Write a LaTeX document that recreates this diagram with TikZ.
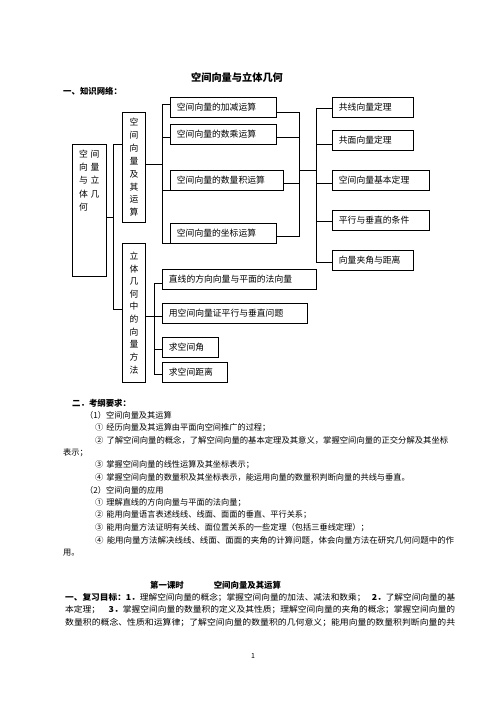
\documentclass[tikz,border=0pt]{standalone}
\usepackage{fontspec}
\usepackage{graphicx}
\setmainfont{Noto Sans CJK SC}
\newcommand{\jline}[2]{\resizebox{#1}{\height}{#2}}
\begin{document}
\begin{tikzpicture}[x=1pt,y=-1pt,
  box/.style={draw, line width=0.8pt, anchor=north west, inner ysep=0pt, inner xsep=6.5pt, minimum height=20pt, align=left, font=\fontsize{8.8}{10}\selectfont},
  vbox/.style={draw, line width=0.8pt, anchor=north west, inner sep=0pt, minimum width=23pt, align=center, font=\fontsize{8.8}{12.85}\selectfont},
  conn/.style={line width=0.8pt},
  body/.style={anchor=west, inner sep=0pt, font=\fontsize{8.2}{10}\selectfont},
  bbody/.style={body, font=\fontsize{8.4}{10}\selectfont\bfseries},
]
\useasboundingbox (0,0) rectangle (496,702);

% title
\node[font=\fontsize{10.2}{12}\selectfont\bfseries] (title) at (237,78) {空间向量与立体几何};
\node[bbody] (h1) at (63,91) {一、知识网络：};

% tree boxes
\node[draw, line width=0.8pt, anchor=north west, minimum width=34pt, minimum height=132pt, inner sep=0pt] (L) at (72,144) {};
\node[anchor=north west, inner sep=0pt, align=left, font=\fontsize{8.8}{13.3}\selectfont] (Lt) at (79,149.5) {空\hspace{2.6pt}间\\向\hspace{2.6pt}量\\与\hspace{2.6pt}立\\体\hspace{2.6pt}几\\何};

\node[vbox, minimum height=110pt] (A) at (122,112) {空\\间\\向\\量\\及\\其\\运\\算};
\node[vbox, minimum height=139pt, font=\fontsize{8.8}{12.65}\selectfont] (B) at (122,243) {立\\体\\几\\何\\中\\的\\向\\量\\方\\法};

\node[box, text width=93pt] (a1) at (170,97) {空间向量的加减运算};
\node[box, text width=93pt] (a2) at (170,124) {空间向量的数乘运算};
\node[box, text width=100pt] (a3) at (170,170) {空间向量的数量积运算};
\node[box, text width=93pt] (a4) at (170,223) {空间向量的坐标运算};

\node[box, text width=68pt] (r1) at (332,97) {共线向量定理};
\node[box, text width=68pt] (r2) at (332,130) {共面向量定理};
\node[box, text width=84pt] (r3) at (332,170) {空间向量基本定理};
\node[box, text width=84pt] (r4) at (332,210) {平行与垂直的条件};
\node[box, text width=68pt] (r5) at (332,250) {向量夹角与距离};

\node[box, text width=141pt] (b1) at (162,269) {直线的方向向量与平面的法向量};
\node[box, text width=132pt] (b2) at (162,303) {用空间向量证平行与垂直问题};
\node[box, text width=43pt] (b3) at (162,337) {求空间角};
\node[box, text width=52pt] (b4) at (162,362) {求空间距离};

% junction coordinates
\coordinate (jL) at (113,217);
\coordinate (bA) at (113,144);
\coordinate (bB) at (113,309);
\coordinate (cA) at (162,164);
\coordinate (c1) at (162,104);
\coordinate (c2) at (162,137);
\coordinate (c3) at (162,190);
\coordinate (c4) at (162,243);
\coordinate (d1) at (299,112);
\coordinate (d2) at (299,137);
\coordinate (d3) at (299,183);
\coordinate (d4) at (299,236);
\coordinate (dm) at (299,170);
\coordinate (e0) at (316,170);
\coordinate (e1) at (316,108);
\coordinate (e2) at (316,144);
\coordinate (e3) at (316,183);
\coordinate (e4) at (316,221);
\coordinate (e5) at (316,262);
\coordinate (f1) at (154,283);
\coordinate (f2) at (154,316);
\coordinate (f3) at (154,349);
\coordinate (f4) at (154,374);

% connectors
\draw[conn] (L.east |- jL) -- (jL);
\draw[conn] (A.west |- bA) -- (bA) -- (bB) -- (B.west |- bB);

\draw[conn] (A.east |- cA) -- (cA);
\draw[conn] (a1.west |- c1) -- (c1) -- (c4) -- (a4.west |- c4);
\draw[conn] (c2) -- (a2.west |- c2);
\draw[conn] (c3) -- (a3.west |- c3);

\draw[conn] (a1.east |- d1) -- (d1) -- (d4) -- (a4.east |- d4);
\draw[conn] (a2.east |- d2) -- (d2);
\draw[conn] (a3.east |- d3) -- (d3);
\draw[conn] (dm) -- (e0);

\draw[conn] (r1.west |- e1) -- (e1) -- (e5) -- (r5.west |- e5);
\draw[conn] (e2) -- (r2.west |- e2);
\draw[conn] (e3) -- (r3.west |- e3);
\draw[conn] (e4) -- (r4.west |- e4);

\draw[conn] (B.east |- f2) -- (f2);
\draw[conn] (b1.west |- f1) -- (f1) -- (f4) -- (b4.west |- f4);
\draw[conn] (f2) -- (b2.west |- f2);
\draw[conn] (f3) -- (b3.west |- f3);

% body text
\node[bbody] (t1) at (72,403) {二．考纲要求：};
\node[body] (t2) at (85,415) {（1）空间向量及其运算};
\node[body] (t3) at (95,427.5) {①\hspace{3pt}经历向量及其运算由平面向空间推广的过程；};
\node[body] (t4) at (95,440) {\jline{353pt}{②\hspace{3pt}了解空间向量的概念，了解空间向量的基本定理及其意义，掌握空间向量的正交分解及其坐标}};
\node[body] (t5) at (63,452.5) {表示；};
\node[body] (t6) at (95,465) {③\hspace{3pt}掌握空间向量的线性运算及其坐标表示；};
\node[body] (t7) at (95,477.5) {④\hspace{3pt}掌握空间向量的数量积及其坐标表示，能运用向量的数量积判断向量的共线与垂直。};
\node[body] (t8) at (85,490) {（2）空间向量的应用};
\node[body] (t9) at (95,502.5) {①\hspace{3pt}理解直线的方向向量与平面的法向量；};
\node[body] (t10) at (95,515) {②\hspace{3pt}能用向量语言表述线线、线面、面面的垂直、平行关系；};
\node[body] (t11) at (95,527.5) {③\hspace{3pt}能用向量方法证明有关线、面位置关系的一些定理（包括三垂线定理）；};
\node[body] (t12) at (95,540) {\jline{359pt}{④\hspace{3pt}能用向量方法解决线线、线面、面面的夹角的计算问题，体会向量方法在研究几何问题中的作}};
\node[body] (t13) at (63,552.5) {用。};

\node[bbody] (t14) at (150,585) {第一课时\hspace{30pt}空间向量及其运算};
\node[body] (t15) at (65,597.5) {\jline{390pt}{{\bfseries 一、复习目标：1．}理解空间向量的概念；掌握空间向量的加法、减法和数乘；\hspace{6pt}{\bfseries 2．}了解空间向量的基}};
\node[body] (t16) at (65,610) {\jline{390pt}{本定理；\hspace{8pt}{\bfseries 3．}掌握空间向量的数量积的定义及其性质；理解空间向量的夹角的概念；掌握空间向量的}};
\node[body] (t17) at (65,622.5) {\jline{390pt}{数量积的概念、性质和运算律；了解空间向量的数量积的几何意义；能用向量的数量积判断向量的共}};

\node[body, anchor=center, font=\fontsize{7}{8}\selectfont] (pg) at (253,656) {1};
\end{tikzpicture}
\end{document}
